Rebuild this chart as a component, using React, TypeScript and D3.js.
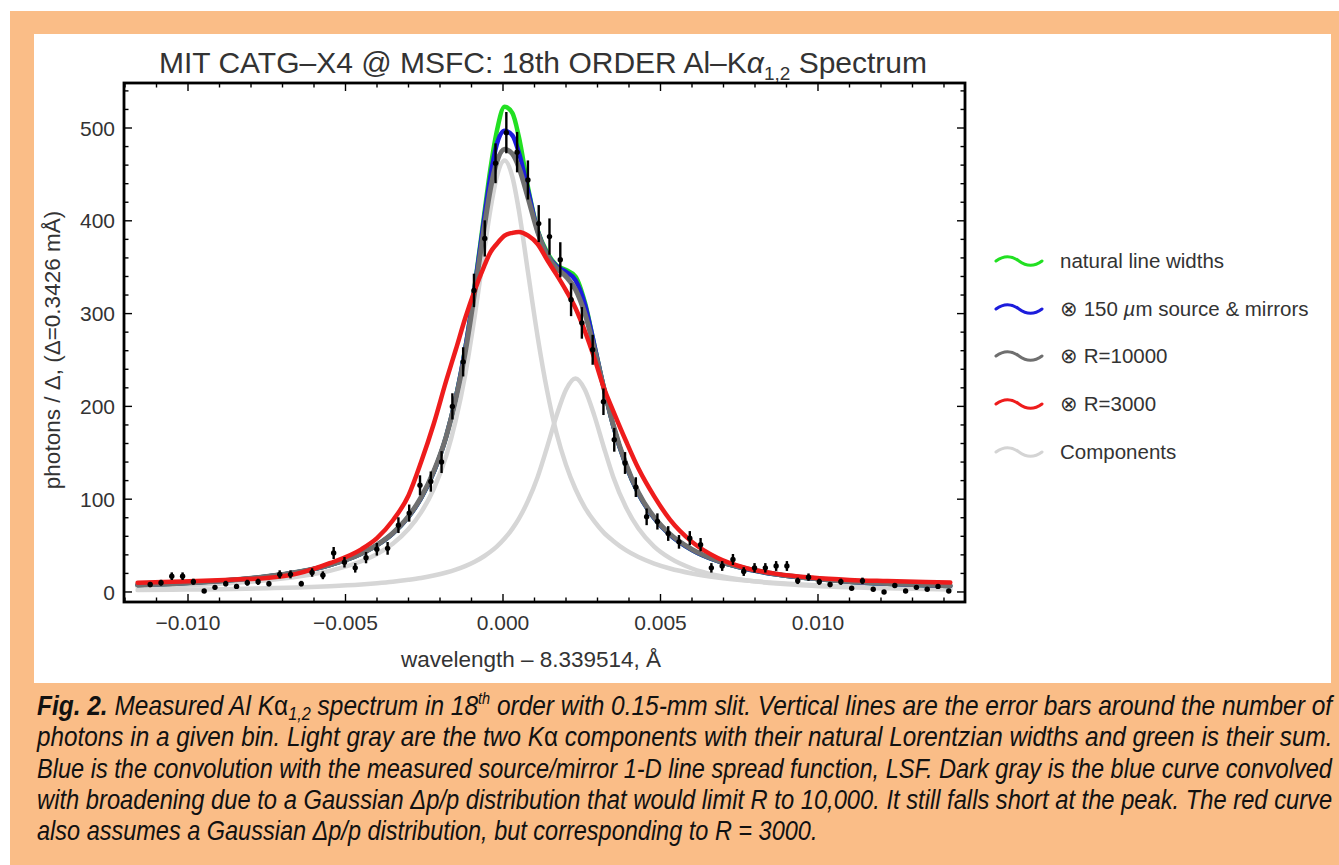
import React, { useLayoutEffect, useRef } from 'react';
import * as d3 from 'd3';

// ---- measured bins (wavelength offset, Å) and photon counts ----
const binX = [
  -0.0112, -0.010857, -0.010515, -0.010172, -0.00983, -0.009487, -0.009144, -0.008802, -0.008459, -0.008117,
  -0.007774, -0.007431, -0.007089, -0.006746, -0.006404, -0.006061, -0.005718, -0.005376, -0.005033, -0.004691,
  -0.004348, -0.004005, -0.003663, -0.00332, -0.002978, -0.002635, -0.002292, -0.00195, -0.001607, -0.001265,
  -0.000922, -0.000579, -0.000237, 0.000106, 0.000448, 0.000791, 0.001134, 0.001476, 0.001819, 0.002161,
  0.002504, 0.002847, 0.003189, 0.003532, 0.003874, 0.004217, 0.00456, 0.004902, 0.005245, 0.005587,
  0.00593, 0.006273, 0.006615, 0.006958, 0.0073, 0.007643, 0.007986, 0.008328, 0.008671, 0.009013,
  0.009356, 0.009699, 0.010041, 0.010384, 0.010726, 0.011069, 0.011412, 0.011754, 0.012097, 0.012439,
  0.012782, 0.013125, 0.013467, 0.01381, 0.014152,
];
const binCounts = [
  8, 10, 17, 17, 11, 1, 5, 9, 6, 10,
  11, 9, 19, 19, 9, 21, 18, 42, 32, 26,
  37, 46, 47, 72, 85, 115, 119, 140, 200, 248,
  325, 381, 462, 495, 474, 444, 397, 383, 358, 315,
  290, 261, 205, 164, 139, 113, 81, 76, 63, 54,
  58, 51, 26, 28, 35, 22, 26, 26, 28, 28,
  12, 16, 11, 8, 11, 4, 12, 3, 0, 7,
  1, 5, 3, 6, 1,
];

// ---- model curves ----
const curveX = [
  -0.0116, -0.0105, -0.0095, -0.0085, -0.0075, -0.0065, -0.0055, -0.0045, -0.004, -0.0035,
  -0.003, -0.0026, -0.0022, -0.0018, -0.0015, -0.0012, -0.0009, -0.0006, -0.0004, -0.0002,
  0.00005, 0.0003, 0.0005, 0.0008, 0.0011, 0.0014, 0.0017, 0.002, 0.0023, 0.0026,
  0.0029, 0.0032, 0.0035, 0.0039, 0.0043, 0.0048, 0.0053, 0.006, 0.0068, 0.0077,
  0.0087, 0.0098, 0.011, 0.0122, 0.0134, 0.0142,
];
const naturalWidths = [
  7.4, 8.9, 10.7, 13.2, 16.6, 21.5, 29.0, 41.2, 50.4, 63.0,
  80.9, 101, 129, 168, 209, 262, 329, 406, 456, 496,
  523, 516, 491, 435, 390, 366, 352, 347, 340, 312,
  266, 220, 179, 137, 106, 79.5, 61.7, 45.3, 33.4, 24.9,
  18.8, 14.4, 11.1, 8.9, 7.2, 6.4,
];
const sourceMirrors = [
  7.4, 8.9, 10.7, 13.2, 16.6, 21.5, 29.0, 41.2, 50.4, 63.0,
  80.9, 101, 129, 168, 209, 262, 328, 402, 448, 482,
  497, 492, 474, 432, 389, 364, 351, 345, 336, 310,
  266, 220, 179, 137, 106, 79.5, 61.7, 45.3, 33.4, 24.9,
  18.8, 14.4, 11.1, 8.9, 7.2, 6.4,
];
const r10000 = [
  7.6, 9.0, 10.8, 13.3, 16.7, 21.6, 29.2, 41.5, 50.8, 63.5,
  81.5, 102, 130, 168, 208, 258, 323, 392, 434, 463,
  477, 472, 458, 424, 388, 363, 349, 340, 326, 300,
  262, 220, 180, 138, 107, 80.5, 62.5, 46, 34, 25.4,
  19.2, 14.8, 11.4, 9.2, 7.5, 6.7,
];
const r3000 = [
  10, 11, 12, 13.5, 15, 20, 31, 46, 58, 77,
  104, 140, 181, 228, 261, 295, 325, 351, 366, 375,
  384, 387, 388, 384, 375, 358, 342, 325, 306, 281,
  252, 220, 195, 163, 133, 103, 78, 54, 37, 26,
  19.5, 15.5, 13, 11.8, 10.8, 10.2,
];
const component1 = [
  5.4, 6.5, 8.0, 9.9, 12.6, 16.6, 22.8, 33.1, 41.0, 52.0,
  67.8, 85.8, 111, 147, 185, 234, 297, 367, 412, 447,
  465, 447, 412, 343, 275, 217, 171, 137, 111, 91,
  76, 64, 55, 45, 37.6, 30.6, 25.3, 20.0, 15.7, 12.3,
  9.7, 7.6, 6.1, 5.0, 4.1, 3.7,
];
const component2 = [
  2.0, 2.4, 2.8, 3.3, 4.0, 4.9, 6.2, 8.1, 9.4, 11.0,
  13.1, 15.1, 17.7, 21.0, 24.1, 27.9, 32.6, 38.5, 43.3, 48.9,
  57.6, 68.3, 78.8, 98.7, 124, 156, 190, 218, 230, 218,
  190, 156, 124, 91.5, 68.3, 48.9, 36.4, 25.3, 17.7, 12.6,
  9.1, 6.7, 5.0, 3.9, 3.1, 2.7,
];

// ---- ticks ----
const xMajorTicks = [-0.01, -0.005, 0, 0.005, 0.01];
const xTickLabels = ['\u22120.010', '\u22120.005', '0.000', '0.005', '0.010'];
const yMajorTicks = [0, 100, 200, 300, 400, 500];
const yTickLabels = ['0', '100', '200', '300', '400', '500'];

const legendLabels = ['natural line widths', '150 µm source & mirrors', 'R=10000', 'R=3000', 'Components'];
const legendColors = ['#22e022', '#1c1cdc', '#6f6f6f', '#ee1c1c', '#d4d4d4'];

const FONT = '"Liberation Sans", Arial, Helvetica, sans-serif';
const CAP_FONT = '"Liberation Sans Narrow", "Liberation Sans", Arial, sans-serif';

const captionBaselines = [715, 746, 778, 809, 840];
const captionWidths = [1296, 1296, 1296, 1296, 781];

export default function App() {
  const left = 124, right = 965, top = 83, bottom = 602;
  const x = d3.scaleLinear().domain([-0.012032, 0.014667]).range([left, right]);
  const y = d3.scaleLinear().domain([-10.8, 548.5]).range([bottom, top]);
  const mk = (vals: number[]) =>
    d3.line<number>().x((_, i) => x(curveX[i])).y((d) => y(d)).curve(d3.curveMonotoneX)(vals) || '';

  const xMinor = d3.range(-0.012, 0.01467, 0.001).filter((v) => !xMajorTicks.some((m) => Math.abs(m - v) < 1e-7));
  const yMinor = d3.range(0, 548, 20).filter((v) => v % 100 !== 0);
  const MAJ = 8, MIN = 4.5;
  const tickStroke = { stroke: '#000', strokeWidth: 1.4 };
  const legendY = [261, 309, 356, 404, 452];

  const capRefs = useRef<(SVGTextElement | null)[]>([]);
  useLayoutEffect(() => {
    capRefs.current.forEach((el, i) => {
      if (!el) return;
      const len = el.getComputedTextLength();
      const s = len > 0 ? captionWidths[i] / len : 1;
      el.setAttribute('transform', `translate(37,${captionBaselines[i]}) scale(${s},1)`);
    });
  }, []);

  return (
    <svg width={1339} height={865} style={{ position: 'absolute', left: 0, top: 0, background: '#fff' }}
      xmlns="http://www.w3.org/2000/svg">
      <rect x={10} y={11} width={1329} height={854} fill="#fabd87" />
      <rect x={34} y={34} width={1297} height={649} fill="#ffffff" />
      <defs>
        <clipPath id="plotClip">
          <rect x={left} y={top} width={right - left} height={bottom - top} />
        </clipPath>
      </defs>

      {/* title */}
      <text x={543} y={73} textAnchor="middle" fontFamily={FONT} fontSize={30} fill="#333">
        MIT CATG–X4 @ MSFC: 18th ORDER Al–K<tspan fontStyle="italic">α</tspan>
        <tspan fontSize={19} dy={7}>1,2</tspan>
        <tspan dy={-7}> Spectrum</tspan>
      </text>

      {/* curves */}
      <g clipPath="url(#plotClip)" fill="none" strokeLinejoin="round" strokeLinecap="round">
        <path d={mk(component1)} stroke="#d6d6d6" strokeWidth={4.5} />
        <path d={mk(component2)} stroke="#d6d6d6" strokeWidth={4.5} />
        <path d={mk(naturalWidths)} stroke="#22e022" strokeWidth={4.5} />
        <path d={mk(sourceMirrors)} stroke="#1c1cdc" strokeWidth={4.5} />
        <path d={mk(r10000)} stroke="#707070" strokeWidth={5} />
        <path d={mk(r3000)} stroke="#ee1c1c" strokeWidth={4.5} />
      </g>

      {/* data with error bars */}
      <g clipPath="url(#plotClip)">
        {binX.map((bx, i) => {
          const c = binCounts[i];
          const e = Math.sqrt(c);
          return (
            <g key={i}>
              <line x1={x(bx)} x2={x(bx)} y1={y(c - e)} y2={y(c + e)} stroke="#000" strokeWidth={2.4} />
              <circle cx={x(bx)} cy={y(c)} r={2.7} fill="#000" />
            </g>
          );
        })}
      </g>

      {/* frame */}
      <rect x={left} y={top} width={right - left} height={bottom - top} fill="none" stroke="#000" strokeWidth={2.8} />

      {/* x ticks */}
      {xMajorTicks.map((v, i) => (
        <g key={'xm' + i}>
          <line x1={x(v)} x2={x(v)} y1={bottom} y2={bottom - MAJ} {...tickStroke} />
          <line x1={x(v)} x2={x(v)} y1={top} y2={top + MAJ} {...tickStroke} />
          <text x={x(v)} y={629.5} textAnchor="middle" fontFamily={FONT} fontSize={21} fill="#333">
            {xTickLabels[i]}
          </text>
        </g>
      ))}
      {xMinor.map((v, i) => (
        <g key={'xn' + i}>
          <line x1={x(v)} x2={x(v)} y1={bottom} y2={bottom - MIN} {...tickStroke} />
          <line x1={x(v)} x2={x(v)} y1={top} y2={top + MIN} {...tickStroke} />
        </g>
      ))}

      {/* y ticks */}
      {yMajorTicks.map((v, i) => (
        <g key={'ym' + i}>
          <line x1={left} x2={left + MAJ} y1={y(v)} y2={y(v)} {...tickStroke} />
          <line x1={right} x2={right - MAJ} y1={y(v)} y2={y(v)} {...tickStroke} />
          <text x={115} y={y(v)} dy="0.36em" textAnchor="end" fontFamily={FONT} fontSize={21} fill="#333">
            {yTickLabels[i]}
          </text>
        </g>
      ))}
      {yMinor.map((v, i) => (
        <g key={'yn' + i}>
          <line x1={left} x2={left + MIN} y1={y(v)} y2={y(v)} {...tickStroke} />
          <line x1={right} x2={right - MIN} y1={y(v)} y2={y(v)} {...tickStroke} />
        </g>
      ))}

      {/* axis labels */}
      <text x={531} y={667} textAnchor="middle" fontFamily={FONT} fontSize={22.5} fill="#333">
        wavelength – 8.339514, Å
      </text>
      <text transform="translate(60,350) rotate(-90)" textAnchor="middle" fontFamily={FONT} fontSize={22.5} fill="#333">
        photons / Δ, (Δ=0.3426 mÅ)
      </text>

      {/* legend */}
      {legendLabels.map((lab, i) => {
        const ly = legendY[i];
        const x0 = 996;
        return (
          <g key={'lg' + i}>
            <path d={`M${x0},${ly} c8,-6 15,-6 23,0 s15,6 23,0`} fill="none" stroke={legendColors[i]}
              strokeWidth={3} strokeLinecap="round" />
            <text x={1060} y={ly} dy="0.35em" fontFamily={FONT} fontSize={20.5} fill="#333">
              {i >= 1 && i <= 3 ? '⊗ ' : ''}
              {i === 1 ? (
                <>
                  150 <tspan fontStyle="italic">µ</tspan>m source &amp; mirrors
                </>
              ) : lab}
            </text>
          </g>
        );
      })}

      {/* caption */}
      <g fontFamily={CAP_FONT} fontSize={27} fontStyle="italic" fill="#111">
        <text ref={(el) => { capRefs.current[0] = el; }} transform="translate(37,715)">
          <tspan fontWeight="bold">Fig. 2.</tspan> Measured Al K<tspan fontStyle="normal">α</tspan>
          <tspan fontSize={18} dy={5}>1,2</tspan>
          <tspan dy={-5}> spectrum in 18</tspan>
          <tspan fontSize={16} dy={-11}>th</tspan>
          <tspan dy={11}> order with 0.15-mm slit. Vertical lines are the error bars around the number of</tspan>
        </text>
        <text ref={(el) => { capRefs.current[1] = el; }} transform="translate(37,746)">
          photons in a given bin. Light gray are the two K<tspan fontStyle="normal">α</tspan> components with their natural Lorentzian widths and green is their sum.
        </text>
        <text ref={(el) => { capRefs.current[2] = el; }} transform="translate(37,778)">
          Blue is the convolution with the measured source/mirror 1-D line spread function, LSF. Dark gray is the blue curve convolved
        </text>
        <text ref={(el) => { capRefs.current[3] = el; }} transform="translate(37,809)">
          with broadening due to a Gaussian Δp/p distribution that would limit R to 10,000. It still falls short at the peak. The red curve
        </text>
        <text ref={(el) => { capRefs.current[4] = el; }} transform="translate(37,840)">
          also assumes a Gaussian Δp/p distribution, but corresponding to R = 3000.
        </text>
      </g>
    </svg>
  );
}
